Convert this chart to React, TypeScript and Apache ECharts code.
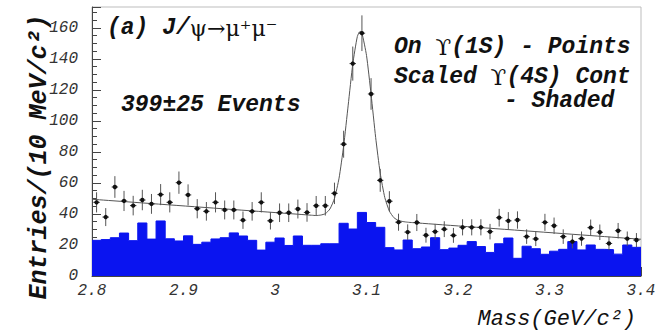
import React, { useEffect, useRef } from "react";
import * as echarts from "echarts";

// Mass range and binning (GeV/c^2)
const massMin = 2.8;
const massMax = 3.4;
const binWidth = 0.01;

// On Upsilon(1S) data points (entries per bin)
const onPeakCounts = [
  47.5, 38, 57.4, 48.4, 45.4, 49, 46.5, 52.5, 47.5, 60.2,
  52.3, 43.4, 41.7, 47.5, 42.6, 42.6, 36, 41.7, 47.5, 35.6,
  40.8, 40.8, 43.2, 41, 45.3, 45.3, 53.3, 85, 137, 156.6,
  117.4, 61.7, 48.2, 34.7, 28.3, 34.5, 26.3, 28.6, 30.2, 26.2,
  31.4, 31.4, 31.4, 28.6, 37.6, 35.6, 36.1, 25.4, 23.9, 34.6,
  32.4, 25.4, 22.2, 24.1, 31.2, 28.2, 21, 29.2, 24.1, 23.2,
];
const onPeakErrors = [
  6.5, 5.8, 7, 6.5, 6.3, 6.6, 6.4, 6.8, 6.5, 7.2,
  6.8, 6.2, 6, 6.5, 6.1, 6.1, 5.6, 6, 6.5, 5.6,
  6, 6, 6.1, 6, 6.3, 6.3, 6.9, 8.7, 11, 11.5,
  10.2, 7.4, 6.5, 5.5, 5, 5.5, 4.8, 5, 5.1, 4.8,
  5.2, 5.2, 5.2, 5, 5.7, 5.6, 5.6, 4.7, 4.6, 5.5,
  5.3, 4.7, 4.4, 4.6, 5.2, 5, 4.3, 5, 4.6, 4.5,
];

// Scaled Upsilon(4S) continuum (shaded histogram)
const continuumCounts = [
  23, 23.5, 24.7, 27.7, 22.8, 34.2, 23.8, 35.5, 24, 22.6,
  25.9, 20.4, 21.8, 23.9, 24.7, 27.8, 25.8, 23, 16.7, 21.8,
  24.5, 19.7, 25.8, 19.8, 19.8, 20.8, 20.8, 34, 30.3, 41,
  34.5, 31.4, 18.3, 16.8, 23.2, 17.6, 18.7, 24.7, 17, 18,
  19.8, 22.2, 19, 15.2, 20.8, 24.5, 11.4, 19.2, 17.6, 14,
  16, 17.2, 22.2, 16.8, 20, 17.2, 17, 14.1, 20, 18.5,
];

// Fit curve
const fitMass = [
  2.8, 3.04, 3.045, 3.05, 3.055, 3.06, 3.065, 3.07, 3.075, 3.08,
  3.085, 3.09, 3.093, 3.095, 3.1, 3.105, 3.11, 3.115, 3.12, 3.125,
  3.13, 3.135, 3.14, 3.145, 3.15, 3.4,
];
const fitValue = [
  49.5, 39.2, 39.0, 39.3, 40.2, 43.2, 50.0, 63.1, 83.8, 110.2,
  136.7, 154.5, 157.8, 156.7, 142.3, 117.1, 89.4, 66.3, 50.6, 41.9,
  37.6, 35.8, 35.1, 34.7, 34.45, 23.7,
];

const yMax = 173.5;
const yTickStep = 20;
const xTickStep = 0.1;

const MONO = '"Liberation Mono", "DejaVu Sans Mono", monospace';
const SERIF = '"DejaVu Serif", "Liberation Serif", serif';
const BLUE = "#0a14f0";

export default function App() {
  const ref = useRef<HTMLDivElement>(null);

  useEffect(() => {
    const chart = echarts.init(ref.current!, null, { renderer: "svg" });

    const histData: number[][] = continuumCounts.map((v, i) => [
      +(massMin + i * binWidth).toFixed(3),
      v,
    ]);
    histData.push([massMax, continuumCounts[continuumCounts.length - 1]]);

    const pointData = onPeakCounts.map((v, i) => [
      +(massMin + (i + 0.5) * binWidth).toFixed(4),
      v,
      onPeakErrors[i],
    ]);

    const fitData = fitMass.map((m, i) => [m, fitValue[i]]);

    const monoTok = (size: number, weight = "bold") => ({
      fontFamily: MONO,
      fontSize: size,
      fontStyle: "italic",
      fontWeight: weight,
      fill: "#111",
      lineHeight: size - 2,
    });
    const serifTok = (size: number) => ({
      fontFamily: SERIF,
      fontSize: size,
      fontStyle: "normal",
      fontWeight: "normal",
      fill: "#111",
      lineHeight: size - 2,
    });

    chart.setOption({
      animation: false,
      grid: {
        left: 92,
        right: 20,
        top: 7,
        bottom: 55,
        show: true,
        borderColor: "#bdbdbd",
        borderWidth: 1,
        backgroundColor: "#ffffff",
      },
      xAxis: {
        type: "value",
        min: massMin,
        max: massMax,
        interval: xTickStep,
        axisLine: { show: true, lineStyle: { color: "#444", width: 1 } },
        axisTick: { show: true, inside: true, length: 9, lineStyle: { color: "#444" } },
        minorTick: { show: true, splitNumber: 5, length: 5, lineStyle: { color: "#444" } },
        splitLine: { show: false },
        axisLabel: {
          margin: 7,
          fontFamily: MONO,
          fontStyle: "italic",
          fontSize: 16,
          color: "#333",
          formatter: (v: number) => String(parseFloat(v.toFixed(1))),
        },
      },
      yAxis: {
        type: "value",
        min: 0,
        max: yMax,
        interval: yTickStep,
        axisLine: { show: true, lineStyle: { color: "#444", width: 1 } },
        axisTick: { show: true, inside: true, length: 9, lineStyle: { color: "#444" } },
        minorTick: { show: true, splitNumber: 4, length: 5, lineStyle: { color: "#444" } },
        splitLine: { show: false },
        axisLabel: {
          margin: 14,
          fontFamily: MONO,
          fontStyle: "italic",
          fontSize: 16,
          color: "#333",
          formatter: (v: number) =>
            Math.abs(v % yTickStep) < 1e-6 ? String(Math.round(v)) : "",
        },
      },
      series: [
        {
          name: "Scaled Y(4S) Cont",
          type: "line",
          step: "end",
          data: histData,
          symbol: "none",
          lineStyle: { color: BLUE, width: 1 },
          areaStyle: { color: BLUE, opacity: 1 },
          z: 1,
        },
        {
          name: "Fit",
          type: "line",
          data: fitData,
          symbol: "none",
          smooth: 0.2,
          lineStyle: { color: "#555", width: 1 },
          z: 3,
        },
        {
          name: "On Y(1S)",
          type: "custom",
          data: pointData,
          encode: { x: 0, y: 1 },
          z: 4,
          renderItem: (params: any, api: any) => {
            const x = api.value(0);
            const y = api.value(1);
            const e = api.value(2);
            const c = api.coord([x, y]);
            const t = api.coord([x, y + e]);
            const b = api.coord([x, Math.max(0, y - e)]);
            const l = api.coord([x - 0.0035, y]);
            const r = api.coord([x + 0.0035, y]);
            return {
              type: "group",
              children: [
                {
                  type: "line",
                  shape: { x1: t[0], y1: t[1], x2: b[0], y2: b[1] },
                  style: { stroke: "#555", lineWidth: 1 },
                },
                {
                  type: "line",
                  shape: { x1: l[0], y1: l[1], x2: r[0], y2: r[1] },
                  style: { stroke: "#333", lineWidth: 1 },
                },
                {
                  type: "circle",
                  shape: { cx: c[0], cy: c[1], r: 2.2 },
                  style: { fill: "#111" },
                },
              ],
            };
          },
        },
      ],
      graphic: [
        {
          type: "text",
          x: 107,
          y: 28,
          z: 10,
          style: {
            text: "{m|(a) J/}{s|ψ→μ⁺μ⁻}",
            align: "left",
            verticalAlign: "middle",
            rich: { m: monoTok(23), s: serifTok(22) },
          },
        },
        {
          type: "text",
          x: 121,
          y: 105,
          z: 10,
          style: {
            text: "399±25 Events",
            align: "left",
            verticalAlign: "middle",
            ...monoTok(23),
          },
        },
        {
          type: "text",
          x: 394,
          y: 47,
          z: 10,
          style: {
            text: "{m|On }{s|ϒ}{m|(1S) - Points}",
            align: "left",
            verticalAlign: "middle",
            rich: { m: monoTok(23), s: serifTok(23) },
          },
        },
        {
          type: "text",
          x: 394,
          y: 77,
          z: 10,
          style: {
            text: "{m|Scaled }{s|ϒ}{m|(4S) Cont}",
            align: "left",
            verticalAlign: "middle",
            rich: { m: monoTok(23), s: serifTok(23) },
          },
        },
        {
          type: "text",
          x: 504,
          y: 101,
          z: 10,
          style: {
            text: "- Shaded",
            align: "left",
            verticalAlign: "middle",
            ...monoTok(23),
          },
        },
        {
          type: "text",
          x: 39,
          y: 157,
          rotation: Math.PI / 2,
          z: 10,
          style: {
            text: "Entries/(10 MeV/c²)",
            align: "center",
            verticalAlign: "middle",
            ...monoTok(25),
          },
        },
        {
          type: "text",
          x: 636,
          y: 319,
          z: 10,
          style: {
            text: "Mass(GeV/c²)",
            align: "right",
            verticalAlign: "middle",
            ...monoTok(22, "normal"),
          },
        },
      ],
    });

    return () => chart.dispose();
  }, []);

  return (
    <div
      ref={ref}
      style={{ position: "fixed", left: 0, top: 0, width: 661, height: 331, background: "#fff" }}
    />
  );
}
